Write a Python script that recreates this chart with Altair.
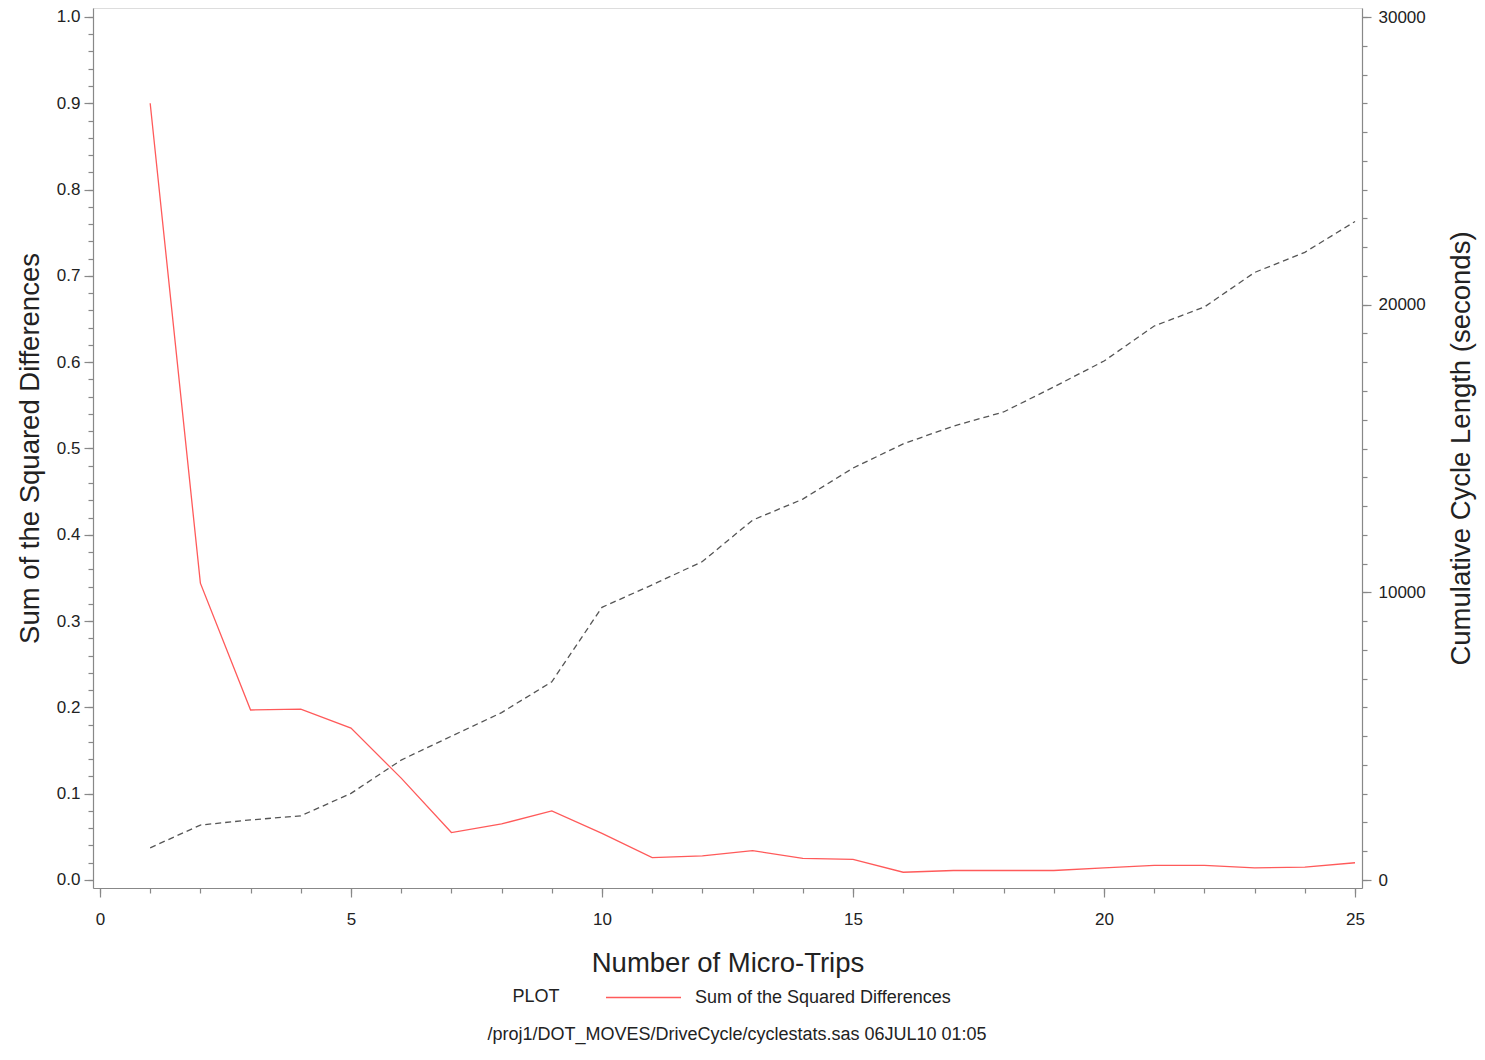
import altair as alt
import pandas as pd

# ---- data ----
trips = list(range(1, 26))
ssd = [0.900, 0.344, 0.197, 0.198, 0.176, 0.118, 0.055, 0.065, 0.080, 0.054,
       0.026, 0.028, 0.034, 0.025, 0.024, 0.009, 0.011, 0.011, 0.011, 0.014,
       0.017, 0.017, 0.014, 0.015, 0.020]
cum = [1120, 1910, 2090, 2230, 3010, 4170, 5000, 5820, 6890, 9480,
       10260, 11070, 12510, 13240, 14320, 15160, 15780, 16270, 17140, 18040,
       19260, 19920, 21120, 21820, 22890]
series_name = "Sum of the Squared Differences"
legend_title = "PLOT"
x_major = [0, 5, 10, 15, 20, 25]
x_minor = list(range(0, 26))
y_left_major = [round(i * 0.1, 1) for i in range(11)]
y_left_minor = [round(i * 0.02, 2) for i in range(51)]
y_right_major = [0, 10000, 20000, 30000]
y_right_minor = list(range(0, 30001, 1000))
footer = "/proj1/DOT_MOVES/DriveCycle/cyclestats.sas 06JUL10 01:05"

df = pd.DataFrame({"trips": trips, "ssd": ssd, "cum": cum,
                   "series": [series_name] * len(trips)})

FONT = "Liberation Sans"
RED = "#ff5a5a"
DARK = "#555555"
AXC = "#888888"
TXT = "#222222"

xscale = alt.Scale(domain=[-0.139, 25.139], nice=False, zero=False)
lscale = alt.Scale(domain=[-0.00927, 1.0104], nice=False, zero=False)
rscale = alt.Scale(domain=[-278, 30313], nice=False, zero=False)

common = dict(domainColor=AXC, tickColor=AXC, labelColor=TXT, labelFont=FONT,
              titleFont=FONT, labelFontSize=17, titleFontSize=27.5,
              titleFontWeight="normal", titleColor=TXT, grid=False,
              tickWidth=1.2, domainWidth=1.2)
minor = dict(labels=False, domain=False, title=None, tickSize=5, grid=False,
             tickColor=AXC, tickWidth=1.2)

red = alt.Chart(df).mark_line(strokeWidth=1.3).encode(
    x=alt.X("trips:Q", scale=xscale,
            axis=alt.Axis(values=x_major, tickSize=9, labelPadding=14,
                          title="Number of Micro-Trips", titlePadding=22, **common)),
    y=alt.Y("ssd:Q", scale=lscale,
            axis=alt.Axis(orient="left", values=y_left_major, format=".1f",
                          tickSize=9, labelPadding=4,
                          title="Sum of the Squared Differences", titlePadding=12,
                          **common)),
    color=alt.Color("series:N",
                    scale=alt.Scale(domain=[series_name], range=[RED]),
                    legend=alt.Legend(title=None, orient="none", legendX=512,
                                      legendY=951, direction="horizontal",
                                      symbolType="stroke",
                                      symbolSize=5625, symbolStrokeWidth=1.3,
                                      labelFont=FONT, labelFontSize=18,
                                      labelLimit=500, labelOffset=13,
                                      labelColor=TXT)),
)

red_minor = alt.Chart(df).mark_line(strokeOpacity=0).encode(
    x=alt.X("trips:Q", scale=xscale,
            axis=alt.Axis(values=x_minor, orient="bottom", **minor)),
    y=alt.Y("ssd:Q", scale=lscale,
            axis=alt.Axis(values=y_left_minor, orient="left", **minor)),
)

dashed = alt.Chart(df).mark_line(strokeWidth=1.3, color=DARK,
                                 strokeDash=[6, 4]).encode(
    x=alt.X("trips:Q", scale=xscale, axis=None),
    y=alt.Y("cum:Q", scale=rscale,
            axis=alt.Axis(orient="right", values=y_right_major, format="d",
                          tickSize=9, labelPadding=7,
                          title="Cumulative Cycle Length (seconds)",
                          titleAngle=270, titlePadding=50, **common)),
)

dashed_minor = alt.Chart(df).mark_line(strokeOpacity=0).encode(
    x=alt.X("trips:Q", scale=xscale, axis=None),
    y=alt.Y("cum:Q", scale=rscale,
            axis=alt.Axis(values=y_right_minor, orient="right", **minor)),
)

plot_label = alt.Chart(pd.DataFrame({"t": [legend_title]})).mark_text(
    font=FONT, fontSize=18, color=TXT).encode(
    x=alt.value(443), y=alt.value(989), text="t:N")

foot = alt.Chart(pd.DataFrame({"t": [footer]})).mark_text(
    font=FONT, fontSize=18, color=TXT).encode(
    x=alt.value(644), y=alt.value(1027), text="t:N")

chart = alt.layer(red, red_minor, dashed, dashed_minor, plot_label, foot).resolve_scale(
    x="independent", y="independent", color="independent"
).properties(
    width=1269, height=880,
    autosize=alt.AutoSizeParams(type="none"),
    padding={"left": 85, "top": 0, "right": 115, "bottom": 160},
).configure_view(stroke=AXC, strokeWidth=1.2).configure(background="white")

chart.save("out.html", embed_options={"renderer": "svg", "actions": False})
